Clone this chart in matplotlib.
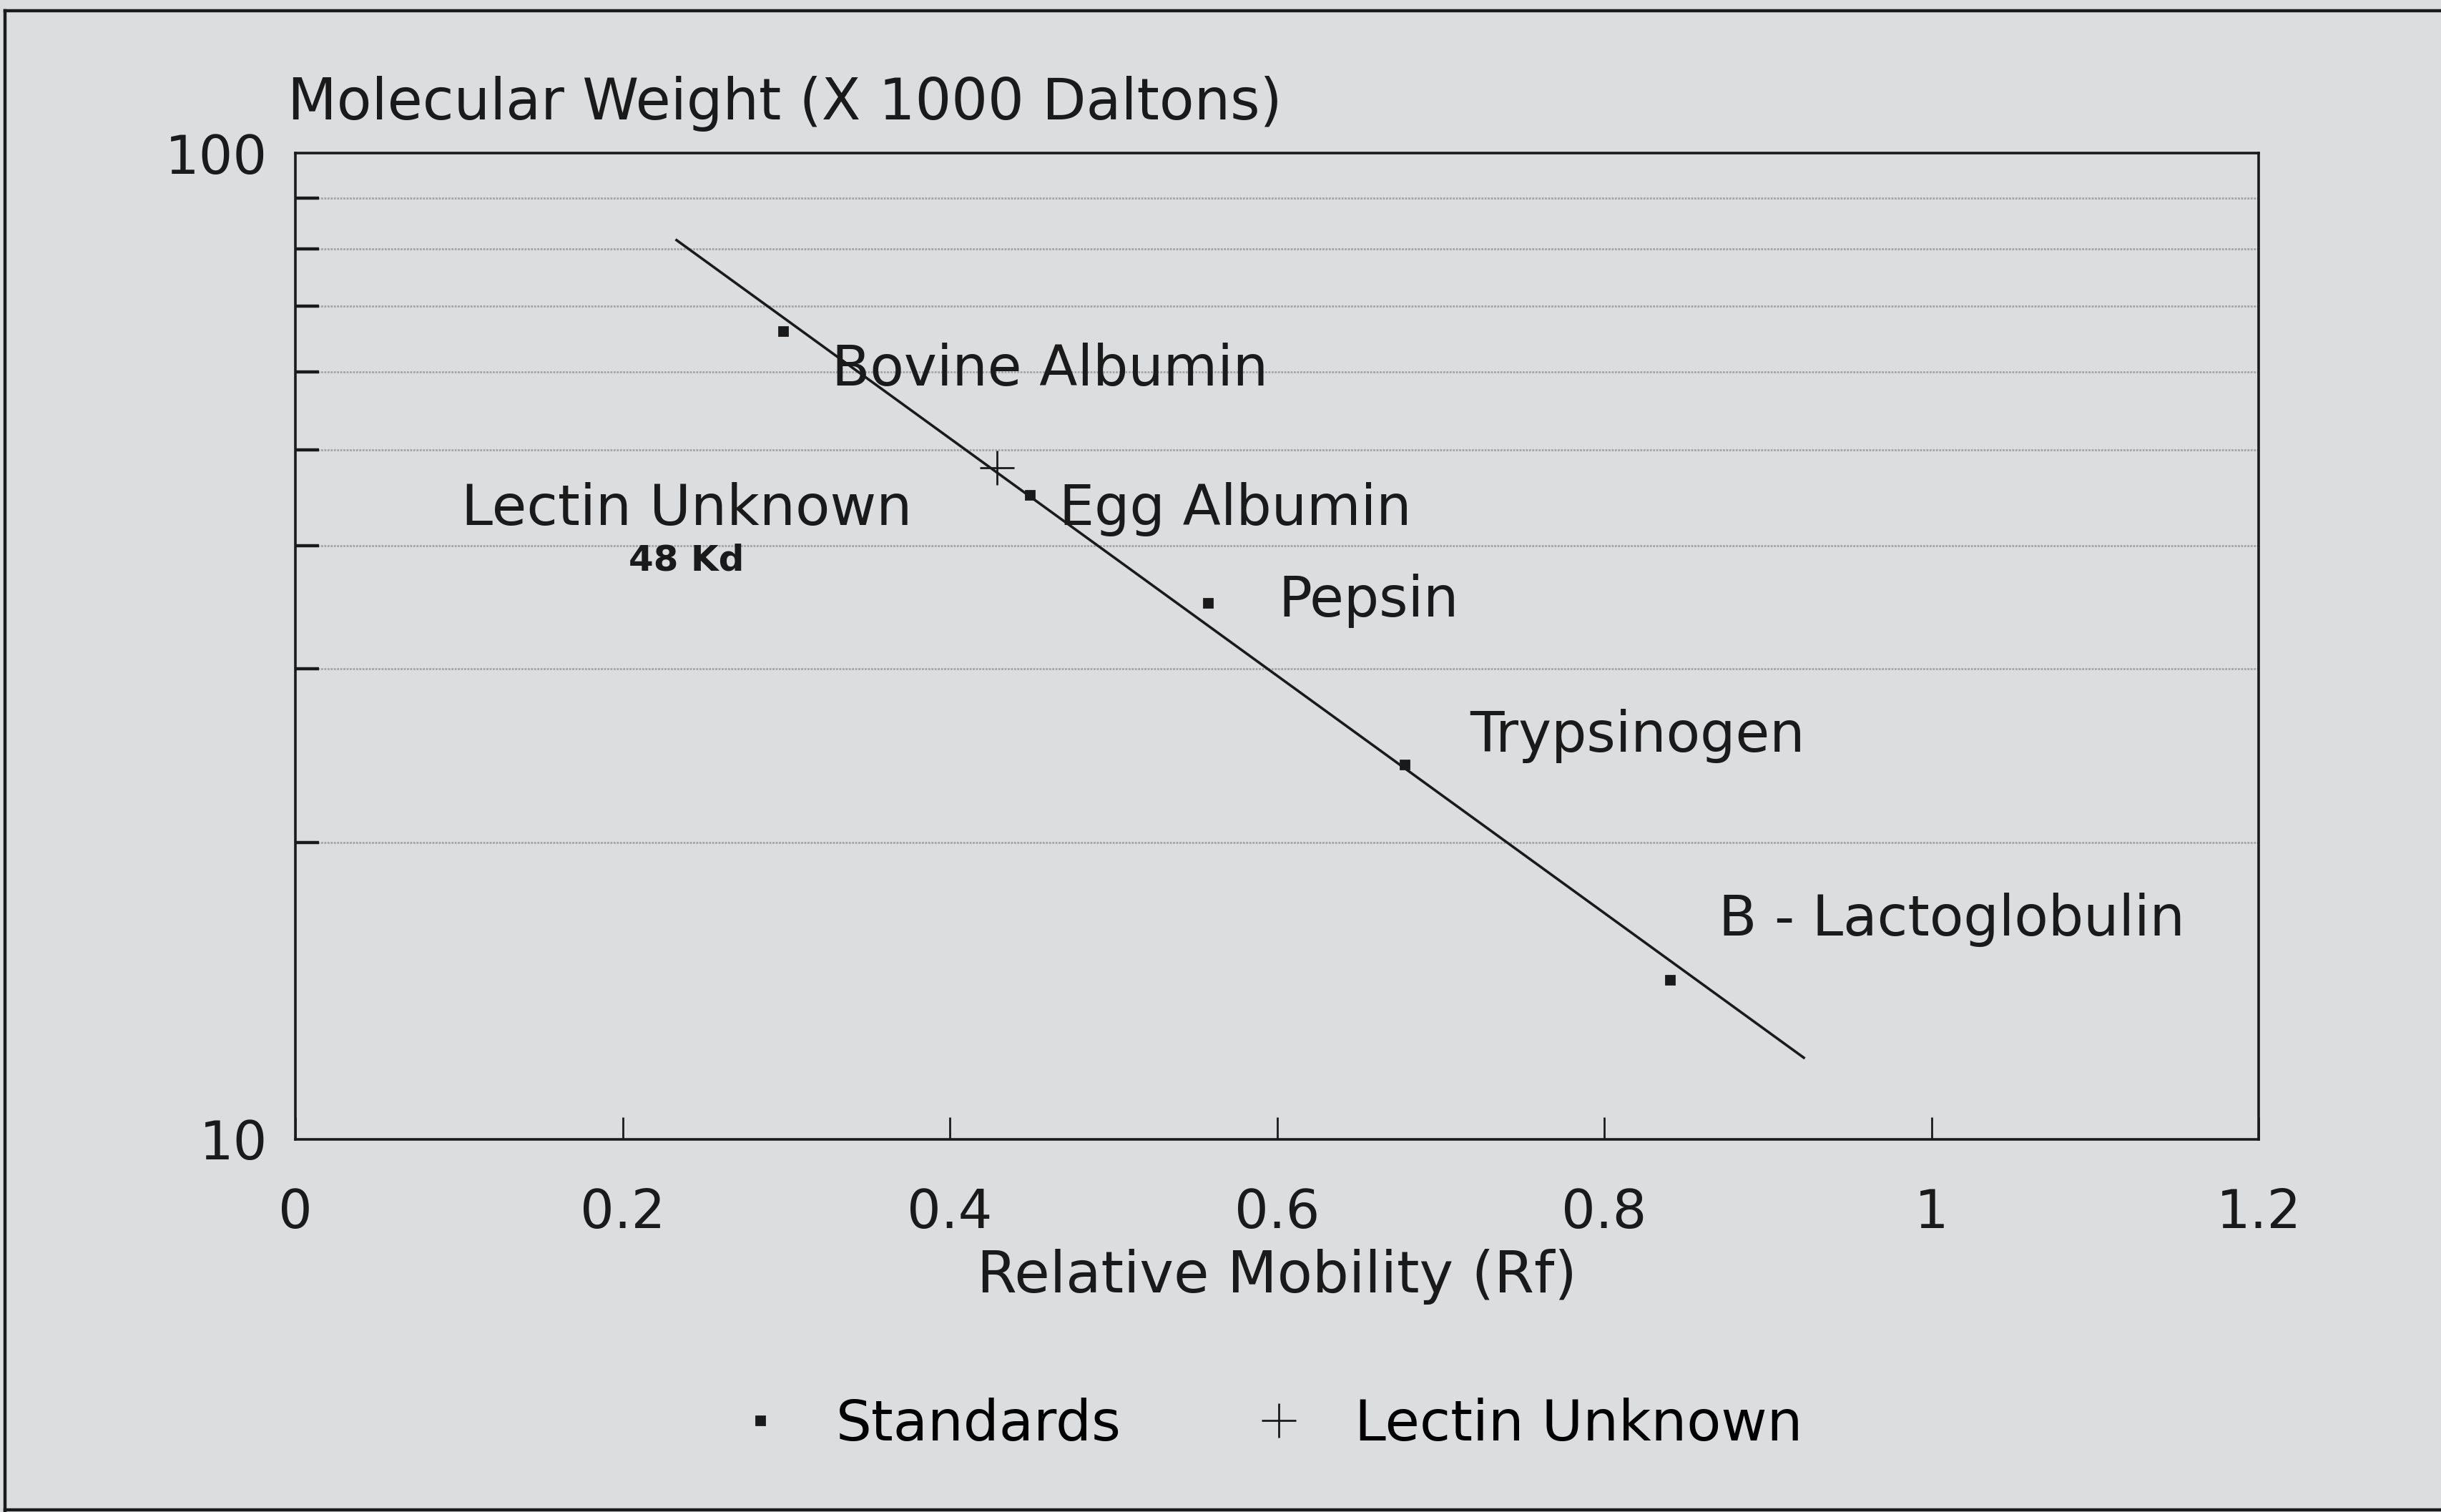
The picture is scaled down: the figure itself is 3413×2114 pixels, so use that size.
import matplotlib.pyplot as plt
from matplotlib.lines import Line2D
from matplotlib.ticker import NullFormatter

# standards
rf_std = [0.298, 0.449, 0.558, 0.678, 0.840]
mw_std = [66, 45, 35, 24, 14.5]
std_names = ["Bovine Albumin", "Egg Albumin", "Pepsin", "Trypsinogen", "B - Lactoglobulin"]
std_label_x = [0.328, 0.467, 0.601, 0.718, 0.870]
std_label_y = [58.1, 42.0, 33.9, 24.7, 16.1]

# the unknown
rf_unknown = [0.429]
mw_unknown = [48]

# drawn calibration line (end points)
fit_rf = [0.233, 0.922]
fit_mw = [81.6, 12.1]

x_ticks = [0, 0.2, 0.4, 0.6, 0.8, 1.0, 1.2]
x_tick_labels = ["0", "0.2", "0.4", "0.6", "0.8", "1", "1.2"]
y_ticks = [10, 100]
y_tick_labels = ["10", "100"]
y_minor = [20, 30, 40, 50, 60, 70, 80, 90]

bg = '#dcdddf'
ink = '#1a1a1a'
plt.rcParams['font.family'] = ['DejaVu Sans']

W, H = 3413, 2114
fig = plt.figure(figsize=(W / 200, H / 200), dpi=200, facecolor=bg)
ax = fig.add_axes([413 / W, 1 - 1593 / H, (3158 - 413) / W, (1593 - 214) / H])
ax.set_facecolor(bg)
ax.set_yscale('log')
ax.set_xlim(0, 1.2)
ax.set_ylim(10, 100)

ax.set_xticks(x_ticks, labels=x_tick_labels)
ax.set_yticks(y_ticks, labels=y_tick_labels)
ax.set_yticks(y_minor, minor=True)
ax.yaxis.set_minor_formatter(NullFormatter())

ax.set_axisbelow(True)
ax.yaxis.grid(True, which='minor', color='#a4a4a4', lw=1.0, linestyle=(0, (1, 0.6)))

ax.tick_params(axis='y', which='major', length=0, pad=14, labelsize=27, colors=ink)
ax.tick_params(axis='y', which='minor', direction='in', length=12, width=1.6, color=ink)
ax.tick_params(axis='x', direction='in', length=11, width=1.0, pad=24, labelsize=27, colors=ink)
for s in ax.spines.values():
    s.set_color(ink)
    s.set_linewidth(1.3)

ax.plot(fit_rf, fit_mw, color=ink, lw=1.3, label='_nolegend_')
ax.plot(rf_std, mw_std, 's', color=ink, ms=4, label="Standards")
ax.plot(rf_unknown, mw_unknown, '+', color=ink, ms=17, mew=1.0, label="Lectin Unknown")

for name, tx, ty in zip(std_names, std_label_x, std_label_y):
    ax.text(tx, ty, name, fontsize=28, color=ink, ha='left', va='baseline')

ax.text(0.239, 42.0, "Lectin Unknown", fontsize=28.5, color=ink, ha='center', va='baseline')
ax.text(0.239, 37.75, "48 Kd", fontsize=18, fontweight='bold', color=ink, ha='center', va='baseline')

ax.set_ylabel("Molecular Weight (X 1000 Daltons)", rotation=0, fontsize=28.7, color=ink,
              ha='left', va='baseline')
ax.yaxis.set_label_coords(-0.004, 1.034)
ax.set_xlabel("Relative Mobility (Rf)", fontsize=29, color=ink, va='baseline')
ax.xaxis.set_label_coords(0.5, -0.155)

ax.legend(loc='center', bbox_to_anchor=(1772 / W, 1 - 1992 / H), bbox_transform=fig.transFigure,
          ncol=2, frameon=False, fontsize=28.3, handlelength=1.0, handletextpad=0.85,
          columnspacing=2.3, numpoints=1)

# outer frame of the page
fig.add_artist(Line2D([7 / W, 1], [1 - 15 / H, 1 - 15 / H], transform=fig.transFigure, color=ink, lw=1.6))
fig.add_artist(Line2D([7 / W, 7 / W], [1 - 15 / H, 0], transform=fig.transFigure, color=ink, lw=1.6))
fig.add_artist(Line2D([7 / W, 1], [3 / H, 3 / H], transform=fig.transFigure, color=ink, lw=1.6))

fig.savefig("out.png", dpi=200, facecolor=bg)
